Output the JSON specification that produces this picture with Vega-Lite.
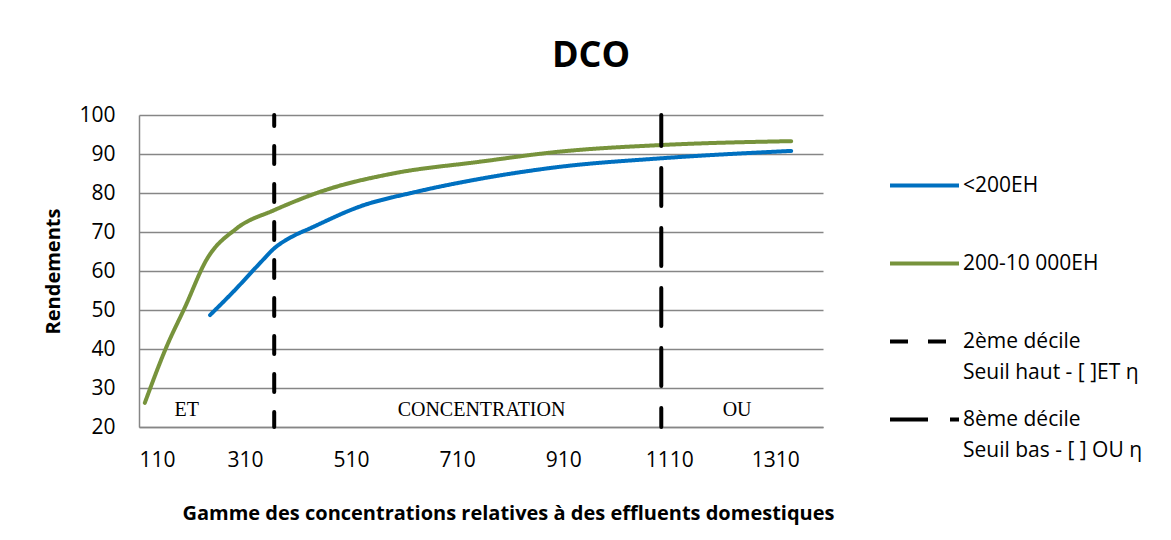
{
  "$schema": "https://vega.github.io/schema/vega-lite/v6.json",
  "autosize": "none",
  "width": 684,
  "height": 312,
  "padding": {"left": 139, "top": 115, "right": 348, "bottom": 113},
  "background": "white",
  "title": {"text": "DCO", "font": "Open Sans", "fontSize": 36, "fontWeight": "bold", "color": "black", "anchor": "middle", "dx": 110, "offset": 29},
  "config": {
    "view": {"stroke": null},
    "style": {"guide-label": {"lineHeight": 31}}
  },
  "datasets": {
    "curves": [
      {"series": "<200EH", "x": 244, "y": 48.7},
      {"series": "<200EH", "x": 288, "y": 54.7},
      {"series": "<200EH", "x": 338, "y": 62.0},
      {"series": "<200EH", "x": 365, "y": 65.8},
      {"series": "<200EH", "x": 400, "y": 68.9},
      {"series": "<200EH", "x": 432, "y": 70.9},
      {"series": "<200EH", "x": 526, "y": 76.5},
      {"series": "<200EH", "x": 633, "y": 80.3},
      {"series": "<200EH", "x": 752, "y": 83.6},
      {"series": "<200EH", "x": 903, "y": 86.7},
      {"series": "<200EH", "x": 1095, "y": 88.9},
      {"series": "<200EH", "x": 1340, "y": 90.8},
      {"series": "200-10 000EH", "x": 121, "y": 26.2},
      {"series": "200-10 000EH", "x": 162, "y": 40.6},
      {"series": "200-10 000EH", "x": 197, "y": 50.8},
      {"series": "200-10 000EH", "x": 237, "y": 62.8},
      {"series": "200-10 000EH", "x": 294, "y": 70.9},
      {"series": "200-10 000EH", "x": 365, "y": 75.6},
      {"series": "200-10 000EH", "x": 463, "y": 80.8},
      {"series": "200-10 000EH", "x": 589, "y": 85.0},
      {"series": "200-10 000EH", "x": 752, "y": 88.0},
      {"series": "200-10 000EH", "x": 903, "y": 90.6},
      {"series": "200-10 000EH", "x": 1095, "y": 92.3},
      {"series": "200-10 000EH", "x": 1340, "y": 93.3}
    ],
    "thresholds": [
      {"series": "2ème décile", "x": 365},
      {"series": "8ème décile", "x": 1095}
    ],
    "zones": [
      {"label": "ET", "x": 200, "y": 24.4},
      {"label": "CONCENTRATION", "x": 756, "y": 24.4},
      {"label": "OU", "x": 1238, "y": 24.4}
    ]
  },
  "layer": [
    {
      "data": {"name": "curves"},
      "mark": {"type": "line", "strokeWidth": 4, "interpolate": "monotone", "strokeCap": "round"},
      "encoding": {
        "x": {"field": "x", "type": "quantitative", "scale": {"domain": [110, 1400], "nice": false, "zero": false},
          "axis": {"values": [110, 310, 510, 710, 910, 1110, 1310], "tickCount": 20, "format": "d", "labelOverlap": false, "grid": false, "ticks": false, "domainColor": "#868686", "domainWidth": 1.5,
            "labelFont": "Open Sans", "labelFontSize": 21, "labelColor": "black", "labelPadding": 22,
            "title": "Gamme des concentrations relatives à des effluents domestiques", "titleFont": "Open Sans", "titleFontSize": 20, "titleFontWeight": "bold", "titleColor": "black",
            "titleX": 369, "titleY": 86, "titleBaseline": "middle", "titleAnchor": null}},
        "y": {"field": "y", "type": "quantitative", "scale": {"domain": [20, 100], "nice": false, "zero": false},
          "axis": {"values": [20, 30, 40, 50, 60, 70, 80, 90, 100], "tickCount": 20, "labelOverlap": false, "grid": true, "gridColor": "#868686", "gridWidth": 1.5, "ticks": false, "domainColor": "#868686", "domainWidth": 1.5,
            "labelFont": "Open Sans", "labelFontSize": 21, "labelColor": "black", "labelPadding": 24,
            "title": "Rendements", "titleFont": "Open Sans", "titleFontSize": 20, "titleFontWeight": "bold", "titleColor": "black",
            "titleX": -86, "titleY": 156, "titleAngle": -90, "titleBaseline": "middle", "titleAlign": "center", "titleAnchor": null}},
        "color": {"field": "series", "type": "nominal",
          "scale": {"domain": ["<200EH", "200-10 000EH", "2ème décile", "8ème décile"], "range": ["#0070c0", "#77933c", "black", "black"]},
          "legend": {"title": null, "orient": "none", "legendX": 749, "legendY": 34, "symbolType": "stroke", "symbolSize": 4761, "symbolStrokeWidth": 4,
            "labelFont": "Open Sans", "labelFontSize": 21, "labelColor": "black", "labelOffset": 2, "rowPadding": -2, "gridAlign": "all", "labelLimit": 400,
            "labelExpr": "datum.label == '2ème décile' ? ['2ème décile', 'Seuil haut - [ ]ET η'] : datum.label == '8ème décile' ? ['8ème décile', 'Seuil bas - [ ] OU η'] : datum.label"}},
        "strokeDash": {"field": "series", "type": "nominal",
          "scale": {"domain": ["<200EH", "200-10 000EH", "2ème décile", "8ème décile"], "range": [[1, 0], [1, 0], [18, 20], [38, 22]]},
          "legend": {"title": null, "orient": "none", "legendX": 749, "legendY": 34, "symbolType": "stroke", "symbolSize": 4761, "symbolStrokeWidth": 4,
            "labelFont": "Open Sans", "labelFontSize": 21, "labelColor": "black", "labelOffset": 2, "rowPadding": -2, "gridAlign": "all", "labelLimit": 400,
            "labelExpr": "datum.label == '2ème décile' ? ['2ème décile', 'Seuil haut - [ ]ET η'] : datum.label == '8ème décile' ? ['8ème décile', 'Seuil bas - [ ] OU η'] : datum.label"}}
      }
    },
    {
      "data": {"name": "thresholds"},
      "mark": {"type": "rule", "strokeWidth": 4, "strokeCap": "round", "strokeDashOffset": 7},
      "encoding": {
        "x": {"field": "x", "type": "quantitative"},
        "color": {"field": "series", "type": "nominal"},
        "strokeDash": {"field": "series", "type": "nominal"}
      }
    },
    {
      "data": {"name": "zones"},
      "mark": {"type": "text", "font": "Liberation Serif", "fontSize": 20, "color": "black", "baseline": "middle", "align": "center"},
      "encoding": {
        "x": {"field": "x", "type": "quantitative"},
        "y": {"field": "y", "type": "quantitative"},
        "text": {"field": "label", "type": "nominal"}
      }
    }
  ]
}
